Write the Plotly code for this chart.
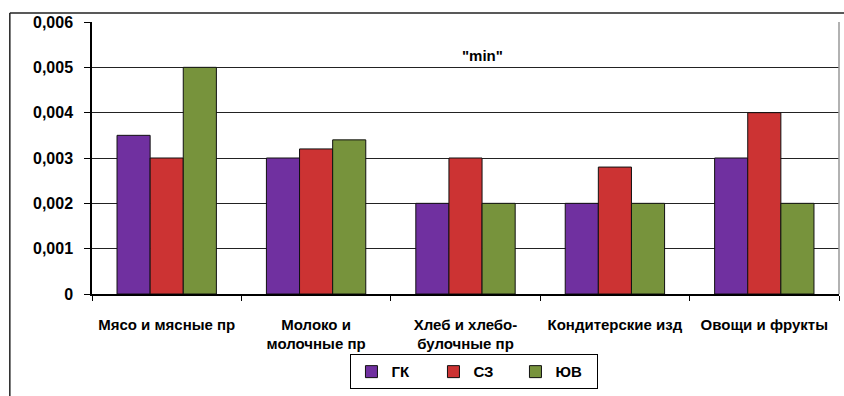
import plotly.graph_objects as go

categories = ["Мясо и мясные пр", "Молоко и<br>молочные пр", "Хлеб и хлебо-<br>булочные пр",
              "Кондитерские изд", "Овощи и фрукты"]
series_names = ["ГК", "СЗ", "ЮВ"]
gk = [0.0035, 0.003, 0.002, 0.002, 0.003]
sz = [0.003, 0.0032, 0.003, 0.0028, 0.004]
yuv = [0.005, 0.0034, 0.002, 0.002, 0.002]
colors = ["#7030A0", "#CC3333", "#77933C"]
y_ticks = [0, 0.001, 0.002, 0.003, 0.004, 0.005, 0.006]
y_tick_text = ["0", "0,001", "0,002", "0,003", "0,004", "0,005", "0,006"]

FONT = "Liberation Sans, Arial, sans-serif"

fig = go.Figure()
for name, vals, col in zip(series_names, [gk, sz, yuv], colors):
    fig.add_trace(go.Bar(
        x=categories, y=vals, name=name,
        marker=dict(color=col, line=dict(color="#111111", width=1)),
    ))

fig.update_layout(
    width=844, height=396,
    margin=dict(l=92, r=5, t=22, b=102),
    paper_bgcolor="white", plot_bgcolor="white",
    barmode="group", bargap=0.335, bargroupgap=0,
    font=dict(family=FONT, size=14, color="black"),
    showlegend=True,
    legend=dict(
        orientation="h", x=0.512, y=-0.222, xanchor="center", yanchor="top",
        bordercolor="black", borderwidth=1, bgcolor="white",
        font=dict(family=FONT, size=15, color="black", weight="bold"),
        itemwidth=30, entrywidth=37, tracegroupgap=0,
    ),
    annotations=[dict(
        text="\"min\"", xref="paper", yref="paper", x=0.523, y=0.915,
        showarrow=False, font=dict(family=FONT, size=15, color="black", weight="bold"),
    )],
    shapes=[
        # outer chart frame (left and top edges)
        dict(type="line", xref="paper", yref="paper", x0=-0.110, x1=-0.110, y0=1.033, y1=-0.5,
             line=dict(color="#222222", width=1.5)),
        dict(type="line", xref="paper", yref="paper", x0=-0.110, x1=1.01, y0=1.033, y1=1.033,
             line=dict(color="#222222", width=1.5)),
        # right edge of the plot area
        dict(type="line", xref="paper", yref="paper", x0=1, x1=1, y0=0, y1=1,
             line=dict(color="#999999", width=1.5)),
    ],
)

fig.update_xaxes(
    showline=True, linecolor="black", linewidth=1.5,
    ticks="outside", tickson="boundaries", ticklen=5, tickcolor="black",
    tickfont=dict(family=FONT, size=15, color="black", weight="bold"),
    ticklabelstandoff=16, showgrid=False,
)
fig.update_yaxes(
    range=[0, 0.006], tickvals=y_ticks, ticktext=y_tick_text,
    showline=True, linecolor="black", linewidth=1.5,
    ticks="outside", ticklen=6, tickcolor="black",
    tickfont=dict(family=FONT, size=16, color="black", weight="bold"),
    ticklabelstandoff=8,
    showgrid=True, gridcolor="#222222", gridwidth=1, zeroline=False,
)

fig.write_html("out.html")
